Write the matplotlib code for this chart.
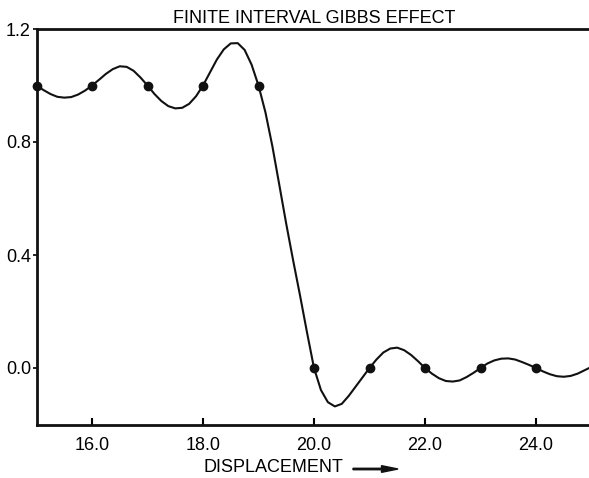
import matplotlib
matplotlib.use("Agg")
import matplotlib.pyplot as plt

plt.rcParams['font.family'] = ['Liberation Sans', 'DejaVu Sans']

# Sample points (dots)
sample_x = [15, 16, 17, 18, 19, 20, 21, 22, 23, 24]
sample_y = [1.0, 1.0, 1.0, 1.0, 1.0, 0.0, 0.0, 0.0, 0.0, 0.0]

# Curve
curve_x = [15.000, 15.125, 15.250, 15.375, 15.500, 15.625, 15.750, 15.875,
           16.000, 16.125, 16.250, 16.375, 16.500, 16.625, 16.750, 16.875,
           17.000, 17.125, 17.250, 17.375, 17.500, 17.625, 17.750, 17.875,
           18.000, 18.125, 18.250, 18.375, 18.500, 18.625, 18.750, 18.875,
           19.000, 19.125, 19.250, 19.375, 19.500, 19.625, 19.750, 19.875,
           20.000, 20.125, 20.250, 20.375, 20.500, 20.625, 20.750, 20.875,
           21.000, 21.125, 21.250, 21.375, 21.500, 21.625, 21.750, 21.875,
           22.000, 22.125, 22.250, 22.375, 22.500, 22.625, 22.750, 22.875,
           23.000, 23.125, 23.250, 23.375, 23.500, 23.625, 23.750, 23.875,
           24.000, 24.125, 24.250, 24.375, 24.500, 24.625, 24.750, 24.875,
           25.000]
curve_y = [1.000, 0.984, 0.970, 0.960, 0.957, 0.959, 0.968, 0.982,
           1.000, 1.020, 1.041, 1.058, 1.068, 1.066, 1.052, 1.028,
           1.000, 0.970, 0.945, 0.927, 0.919, 0.921, 0.935, 0.962,
           1.000, 1.046, 1.092, 1.128, 1.149, 1.150, 1.126, 1.074,
           1.000, 0.905, 0.785, 0.648, 0.510, 0.380, 0.255, 0.125,
           0.000, -0.078, -0.121, -0.136, -0.127, -0.099, -0.066, -0.033,
           0.000, 0.030, 0.055, 0.069, 0.072, 0.063, 0.046, 0.024,
           0.000, -0.020, -0.036, -0.046, -0.048, -0.044, -0.032, -0.017,
           0.000, 0.016, 0.027, 0.033, 0.034, 0.030, 0.021, 0.011,
           0.000, -0.012, -0.022, -0.029, -0.031, -0.028, -0.020, -0.008,
           0.004]

x_ticks = [16.0, 18.0, 20.0, 22.0, 24.0]
y_ticks = [0.0, 0.4, 0.8, 1.2]

fig = plt.figure(figsize=(5.89, 4.78), dpi=100)
ax = fig.add_axes([36.5 / 589, 1 - 424.5 / 478, 555 / 589, 395.5 / 478])

ax.plot(curve_x, curve_y, color='#111111', lw=1.5, solid_capstyle='round',
        solid_joinstyle='round')
ax.plot(sample_x, sample_y, 'o', color='#111111', ms=6, clip_on=False)

ax.set_xlim(15, 25)
ax.set_ylim(-0.2, 1.2)
ax.set_xticks(x_ticks)
ax.set_xticklabels([f"{v:.1f}" for v in x_ticks])
ax.set_yticks(y_ticks)
ax.set_yticklabels([f"{v:.1f}" for v in y_ticks])

ax.tick_params(axis='x', direction='in', length=5, width=1.5, labelsize=13, pad=9)
ax.tick_params(axis='y', direction='out', length=3, width=1.2, labelsize=13, pad=1)

for s in ['left', 'bottom', 'top']:
    ax.spines[s].set_linewidth(2)
    ax.spines[s].set_color('#111111')
ax.spines['right'].set_visible(False)

ax.set_title('FINITE INTERVAL GIBBS EFFECT', fontsize=13, pad=4)

fig.text(273 / 589, 1 - 467 / 478, 'DISPLACEMENT', fontsize=13,
         ha='center', va='center')
fig.patches.append(matplotlib.patches.FancyArrow(
    353 / 589, 1 - 469 / 478, 45 / 589, 0, width=0.003,
    head_width=0.014, head_length=0.028, length_includes_head=True,
    transform=fig.transFigure, color='#111111'))

fig.savefig('out.png', dpi=100)
